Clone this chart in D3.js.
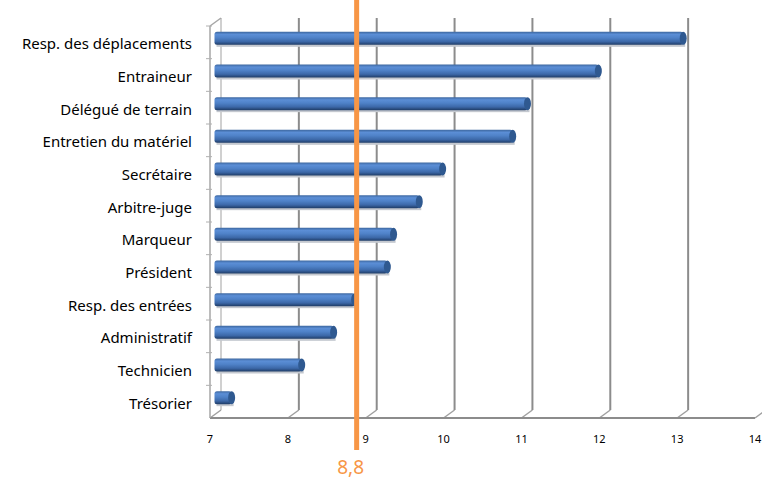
<!DOCTYPE html>
<html>
<head>
<meta charset="utf-8">
<script src="https://cdn.jsdelivr.net/npm/d3@7"></script>
<style>
  body { margin: 0; background: #fff; }
  text { font-family: "Noto Sans", "Open Sans", sans-serif; }
</style>
</head>
<body>
<script>
// Data
const categories = ["Resp. des déplacements", "Entraineur", "Délégué de terrain", "Entretien du matériel",
  "Secrétaire", "Arbitre-juge", "Marqueur", "Président", "Resp. des entrées", "Administratif",
  "Technicien", "Trésorier"];
const values = [13.02, 11.93, 11.02, 10.83, 9.93, 9.63, 9.3, 9.22, 8.8, 8.53, 8.12, 7.22];
const xTicks = [7, 8, 9, 10, 11, 12, 13, 14];
const refValue = 8.8;
const refLabel = "8,8";

const W = 762, H = 480;
const depth = { dx: 11, dy: -8 };   // 3D offset of the back wall

const svg = d3.select("body").append("svg")
  .attr("width", W)
  .attr("height", H);

// front plane scale and the bars sit at middle depth
const x = d3.scaleLinear().domain([7, 14]).range([210, 755]);
const xBack = v => x(v) + depth.dx;
const xMid = v => x(v) + depth.dx / 2;

const y = d3.scaleBand().domain(categories).range([26, 418]);
const floorY = 418;

// gradient for the cylinders
const defs = svg.append("defs");
const grad = defs.append("linearGradient")
  .attr("id", "cyl").attr("x1", 0).attr("y1", 0).attr("x2", 0).attr("y2", 1);
[[0, "#3d679f"], [0.2, "#5b8ed6"], [0.45, "#4f82c8"], [0.75, "#3c68a8"], [1, "#1f3c66"]]
  .forEach(s => grad.append("stop").attr("offset", s[0]).attr("stop-color", s[1]));

// back wall gridlines
svg.append("g").selectAll("line")
  .data(xTicks.slice(0, 7))
  .join("line")
  .attr("x1", d => xBack(d)).attr("x2", d => xBack(d))
  .attr("y1", 26 + depth.dy).attr("y2", floorY + depth.dy)
  .attr("stroke", d => d === 7 ? "#d0d0d0" : "#8c8c8c")
  .attr("stroke-width", 2);

// floor: diagonal ticks and front axis line
svg.append("g").selectAll("line")
  .data(xTicks)
  .join("line")
  .attr("x1", d => x(d)).attr("x2", d => xBack(d))
  .attr("y1", floorY).attr("y2", floorY + depth.dy)
  .attr("stroke", "#a0a0a0").attr("stroke-width", 1.5);

svg.append("line")
  .attr("x1", x(7)).attr("x2", x(14))
  .attr("y1", floorY).attr("y2", floorY)
  .attr("stroke", "#8c8c8c").attr("stroke-width", 2);

// left wall
svg.append("line")
  .attr("x1", x(7)).attr("x2", x(7))
  .attr("y1", 26).attr("y2", floorY)
  .attr("stroke", "#a6a6a6").attr("stroke-width", 1.5);
svg.append("line")
  .attr("x1", x(7)).attr("x2", xBack(7))
  .attr("y1", 26).attr("y2", 26 + depth.dy)
  .attr("stroke", "#a6a6a6").attr("stroke-width", 1.5);
svg.append("g").selectAll("line")
  .data(categories)
  .join("line")
  .attr("x1", x(7) - 4).attr("x2", x(7) + 2)
  .attr("y1", d => y(d)).attr("y2", d => y(d))
  .attr("stroke", "#b0b0b0").attr("stroke-width", 1);

// x tick labels
svg.append("g").selectAll("text")
  .data(xTicks)
  .join("text")
  .attr("x", d => x(d)).attr("y", 443)
  .attr("text-anchor", "middle")
  .attr("font-size", 11)
  .attr("fill", "#000")
  .text(d => d);

// category labels
svg.append("g").selectAll("text")
  .data(categories)
  .join("text")
  .attr("x", 192)
  .attr("y", d => y(d) + y.bandwidth() / 2 + 7)
  .attr("text-anchor", "end")
  .attr("font-size", 15)
  .attr("fill", "#000")
  .text(d => d);

// bars (cylinders)
const barH = 13;
const capW = 3.5;
const bars = svg.append("g").selectAll("g")
  .data(categories.map((c, i) => ({ c, v: values[i] })))
  .join("g")
  .attr("transform", d => `translate(0, ${y(d.c) + y.bandwidth() / 2 - 4})`);

// soft shadow under each bar
bars.append("rect")
  .attr("x", xMid(7) + 1)
  .attr("y", barH / 2 - 1)
  .attr("width", d => xMid(d.v) - xMid(7))
  .attr("height", 3)
  .attr("fill", "#c4c8cf");

bars.append("rect")
  .attr("x", xMid(7) - 1)
  .attr("y", -barH / 2)
  .attr("width", d => xMid(d.v) - xMid(7))
  .attr("height", barH)
  .attr("rx", 2.5)
  .attr("fill", "url(#cyl)");

bars.append("ellipse")
  .attr("cx", d => xMid(d.v) - 1)
  .attr("cy", 0)
  .attr("rx", capW)
  .attr("ry", barH / 2)
  .attr("fill", "#2f5990");

// reference line
svg.append("line")
  .attr("x1", xMid(refValue) + 1).attr("x2", xMid(refValue) + 1)
  .attr("y1", 0).attr("y2", 450)
  .attr("stroke", "#f79646").attr("stroke-width", 5);

svg.append("text")
  .attr("x", xMid(refValue) - 5).attr("y", 474)
  .attr("text-anchor", "middle")
  .attr("font-size", 19)
  .attr("fill", "#f79646")
  .text(refLabel);
</script>
</body>
</html>
